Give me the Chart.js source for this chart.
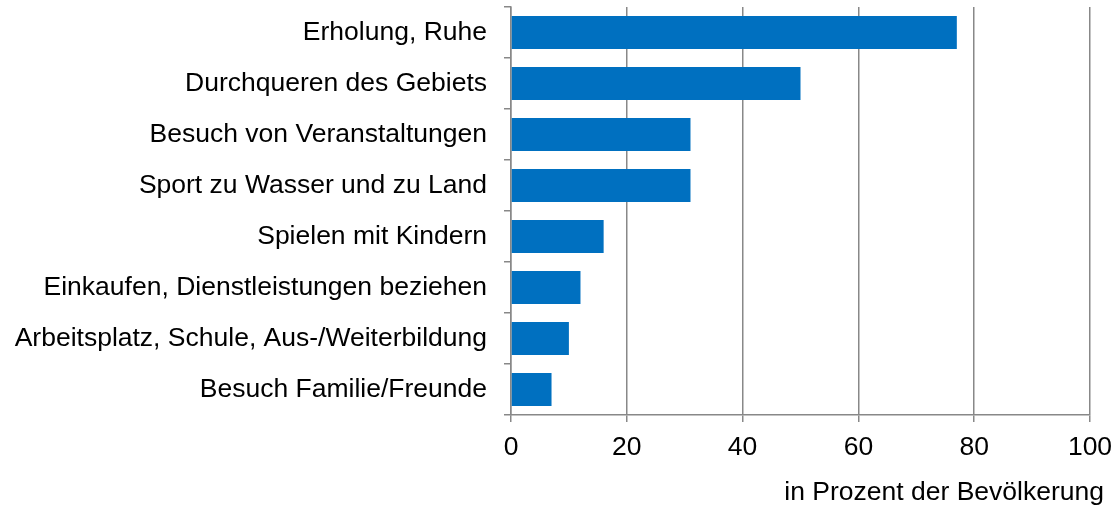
<!DOCTYPE html>
<html>
<head>
<meta charset="utf-8">
<script src="https://cdn.jsdelivr.net/npm/chart.js@4"></script>
<style>
  html, body { margin: 0; padding: 0; background: #fff; }
  #wrap { width: 1113px; height: 507px; }
</style>
</head>
<body>
<div id="wrap"><canvas id="chart"></canvas></div>
<script>
const categories = [
    'Erholung, Ruhe',
    'Durchqueren des Gebiets',
    'Besuch von Veranstaltungen',
    'Sport zu Wasser und zu Land',
    'Spielen mit Kindern',
    'Einkaufen, Dienstleistungen beziehen',
    'Arbeitsplatz, Schule, Aus-/Weiterbildung',
    'Besuch Familie/Freunde'
];
const values = [77, 50, 31, 31, 16, 12, 10, 7];
const xTitle = 'in Prozent der Bevölkerung';

const fontFamily = '"Liberation Sans", Arial, sans-serif';
const fontSize = 26.5;
const gridColor = '#888888';

// axis title sits right of the plot area, so draw it ourselves
const titlePlugin = {
    id: 'xTitle',
    afterDraw(chart) {
        const c = chart.ctx;
        c.save();
        c.font = fontSize + 'px ' + fontFamily;
        c.fillStyle = '#000';
        c.textAlign = 'right';
        c.textBaseline = 'middle';
        c.fillText(xTitle, chart.chartArea.right + 14, 493);
        c.restore();
    }
};

const ctx = document.getElementById('chart');

var myChart = new Chart(ctx, {
    type: 'bar',
    data: {
        labels: categories,
        datasets: [{
            data: values,
            backgroundColor: '#0070C0',
            barPercentage: 0.65,
            categoryPercentage: 1.0
        }]
    },
    options: {
        indexAxis: 'y',
        responsive: true,
        maintainAspectRatio: false,
        animation: false,
        layout: { padding: { top: 7, right: 23, left: 0, bottom: 0 } },
        plugins: {
            legend: { display: false },
            tooltip: { enabled: false }
        },
        scales: {
            x: {
                min: 0,
                max: 100,
                ticks: {
                    stepSize: 20,
                    color: '#000',
                    padding: 10,
                    maxRotation: 0,
                    font: { family: fontFamily, size: fontSize }
                },
                grid: {
                    color: gridColor,
                    lineWidth: 1.5,
                    tickLength: 7
                },
                border: { color: gridColor, width: 1.5 },
                afterFit(scale) {
                    scale.height = 92;
                    scale.paddingLeft = 0;
                    scale.paddingRight = 0;
                }
            },
            y: {
                ticks: {
                    color: '#000',
                    padding: 17,
                    font: { family: fontFamily, size: fontSize }
                },
                grid: {
                    drawOnChartArea: false,
                    color: gridColor,
                    lineWidth: 1.5,
                    tickLength: 7
                },
                border: { color: gridColor, width: 1.5 },
                afterFit(scale) {
                    scale.width = 511;
                    scale.paddingTop = 0;
                    scale.paddingBottom = 0;
                }
            }
        }
    },
    plugins: [titlePlugin]
});
</script>
</body>
</html>
